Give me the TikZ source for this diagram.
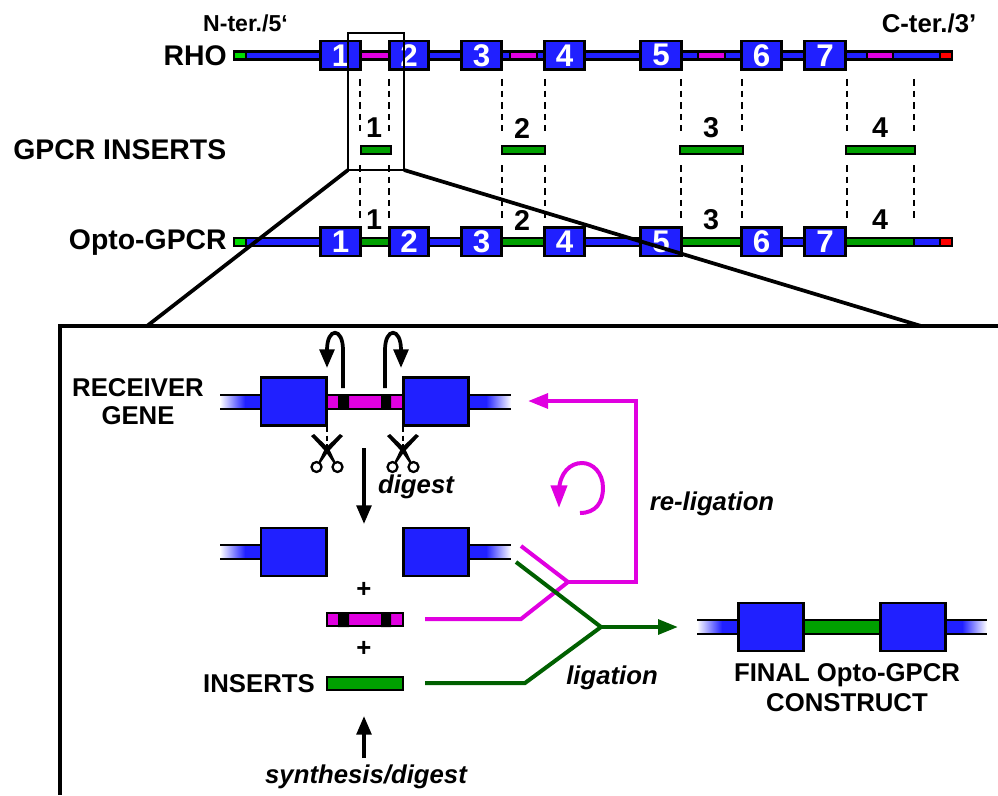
\documentclass[tikz,border=0pt]{standalone}
\usepackage{fontspec}
\setmainfont{Liberation Sans}
\usetikzlibrary{arrows.meta,calc}
\definecolor{tmblue}{HTML}{2020FF}
\definecolor{mag}{HTML}{E000E0}
\definecolor{ins}{HTML}{00A000}
\definecolor{dkg}{HTML}{006000}
\definecolor{lime}{HTML}{00DD00}
\tikzset{
 tm/.style={draw=black,line width=2pt,fill=tmblue,text=white,font=\fontsize{23.5}{23.5}\bfseries\selectfont,inner sep=0pt},
 lab/.style={font=\fontsize{19.3}{20.5}\bfseries\selectfont,inner sep=0pt,align=center},
 headlab/.style={font=\fontsize{21.3}{21}\bfseries\selectfont,inner sep=0pt},
 ilab/.style={font=\fontsize{19.3}{20}\bfseries\itshape\selectfont,inner sep=0pt},
 num/.style={font=\fontsize{21.5}{21.5}\bfseries\selectfont,inner sep=0pt},
 seg/.style={draw=black,line width=1.8pt,inner sep=0pt,minimum height=6pt},
 cut/.style={dash pattern=on 5pt off 3.7pt,line width=1.8pt},
 thick line/.style={line width=2.8pt},
 big box/.style={draw=black,line width=2pt,fill=tmblue,inner sep=0pt,minimum width=49pt,minimum height=36pt},
 bar/.style={line width=2pt},
 bighead/.style={-{Triangle[length=14pt,width=11pt]}},
 colhead/.style={-{Triangle[length=15pt,width=11pt]}},
}
\newcommand{\leadL}[3]{% x1 x2 y
 \fill[tmblue] (#1+25,#3-7) rectangle (#2,#3+7);
 \path[left color=white,right color=tmblue] (#1,#3-7) rectangle (#1+25,#3+7);
 \draw[line width=2pt] (#1,#3-7)--(#2,#3-7) (#1,#3+7)--(#2,#3+7);}
\newcommand{\leadR}[3]{%
 \fill[tmblue] (#1,#3-7) rectangle (#2-25,#3+7);
 \path[left color=tmblue,right color=white] (#2-25,#3-7) rectangle (#2,#3+7);
 \draw[line width=2pt] (#1,#3-7)--(#2,#3-7) (#1,#3+7)--(#2,#3+7);}
\newcommand{\scis}[1]{%
 \begin{scope}[shift={(#1,452)}]
 \fill (-16,-16)--(-13,-18)--(2,-3.5)--(8.5,10)--(6.5,11)--(-1.5,-0.5)--cycle;
 \fill (16,-16)--(13,-18)--(-2,-3.5)--(-8.5,10)--(-6.5,11)--(1.5,-0.5)--cycle;
 \draw[line width=1.7pt,fill=white] (-10.5,15) circle (5) (10.5,15) circle (5);
 \draw[white,line width=1.5pt] (0,-14)--(0,-4);
 \draw[cut,dash pattern=on 4pt off 2.5pt,line width=1.2pt] (0,-25)--(0,-4);
 \end{scope}}
\begin{document}
\begin{tikzpicture}[x=0.75pt,y=-0.75pt,line join=miter]
\useasboundingbox (0,0) rectangle (998,795);
% --- backbones
\foreach \yy in {55.5,242}{
 \draw[bar,fill=tmblue] (234,\yy-4) rectangle (952,\yy+4);
 \draw[bar,fill=lime] (234,\yy-4) rectangle (246,\yy+4);
 \draw[bar,fill=red] (940,\yy-4) rectangle (952,\yy+4);
}
\foreach \a/\b in {361/389,510/537,698/725,867/893}
 \draw[bar,fill=mag] (\a,51.5) rectangle (\b,59.5);
\foreach \a/\b in {361/389,502/544,682/741,846/914}
 \draw[bar,fill=ins] (\a,238) rectangle (\b,246);
\foreach \n/\a/\b in {1/320/361,2/389/429,3/461/502,4/544/585,5/640/682,6/741/782,7/804/846}{
 \node[tm,minimum width={(\b-\a-1.5)*0.75pt},minimum height=21.5pt] (r\n) at ({(\a+\b)/2},55.3) {\n};
 \node[tm,minimum width={(\b-\a-1.5)*0.75pt},minimum height=21.5pt] (o\n) at ({(\a+\b)/2},241.7) {\n};
}
% --- dashes
\foreach \x in {360,389,502,545,681,742,847,914}{
 \coordinate (da\x) at (\x,79); \coordinate (db\x) at (\x,131);
 \coordinate (dc\x) at (\x,165); \coordinate (dd\x) at (\x,218);
 \draw[cut] (da\x)--(db\x) (dc\x)--(dd\x);
}
% --- inserts
\foreach \n/\a/\b/\t in {1/360/392/374,2/501/546/522,3/679/744/711,4/845/916/880}{
 \node[seg,fill=ins,minimum width={(\b-\a-2.5)*0.75pt}] (g\n) at ({(\a+\b)/2},150) {};
 \node[num] (gn\n) at (\t,128) {\n};
 \node[num] (on\n) at (\t,220) {\n};
}
% --- labels
\node[font=\fontsize{17.3}{19}\bfseries\selectfont,inner sep=0pt] (nter) at (245.5,23) {N-ter./5‘};
\node[font=\fontsize{19.3}{19}\bfseries\selectfont,inner sep=0pt] (cter) at (929,23) {C-ter./3'};
\node[headlab,anchor=east] (rho) at (227,56) {RHO};
\node[headlab,anchor=west] (gi) at (13,150) {GPCR INSERTS};
\node[headlab,anchor=east] (og) at (227,243) {Opto-GPCR};
% --- zoom
\coordinate (zl) at (348,170); \coordinate (zr) at (404,170);
\coordinate (zt) at (348,33); \coordinate (zu) at (404,33);
\coordinate (fl) at (147,326); \coordinate (fr) at (921,326);
\draw[line width=2.2pt] (zl)--(zt)--(zu)--(zr)--cycle;
\draw[thick line] (zl)--(fl) (zr)--(fr);
\coordinate (ft) at (998,326); \coordinate (fc) at (60,326); \coordinate (fb) at (60,795);
\draw[thick line] (ft)--(fc)--(fb);
% --- receiver
\leadL{220}{260}{402}\leadR{469}{511}{402}
\draw[bar,fill=mag] (327,395) rectangle (403,409);
\fill (338,395) rectangle (349,409) (381,395) rectangle (391,409);
\node[big box] (a1) at (293.5,401.7) {};
\node[big box] (a2) at (436,401.7) {};
\leadL{220}{260}{552}\leadR{469}{511}{552}
\node[big box] (b1) at (293.5,552) {};
\node[big box] (b2) at (436,552) {};
\node[seg,fill=mag,minimum width=57pt,minimum height=9.5pt] (frag) at (364.8,619.5) {};
\fill (338,612) rectangle (349,627) (381,612) rectangle (391,627);
\node[seg,fill=ins,minimum width=57pt,minimum height=9.5pt] (insg) at (364.8,683.5) {};
% --- final
\leadL{697}{738}{627}\leadR{946}{987}{627}
\draw[bar,fill=ins] (804,620) rectangle (880,634);
\node[big box] (c1) at (771,627) {};
\node[big box] (c2) at (913,627) {};
% --- curved arrows
\coordinate (ca1) at (343,388); \coordinate (ca2) at (327,368);
\coordinate (cb1) at (385,388); \coordinate (cb2) at (401,368);
\draw[thick line,bighead] (ca1)--(343,350) .. controls (343,327) and (327,327) .. (327,350)--(ca2);
\draw[thick line,bighead] (cb1)--(385,350) .. controls (385,327) and (401,327) .. (401,350)--(cb2);
\scis{327}\scis{403}
% --- straight arrows
\coordinate (d1) at (364,448); \coordinate (d2) at (364,524);
\draw[thick line,bighead] (d1)--(d2);
\coordinate (s1) at (364,758); \coordinate (s2) at (364,716);
\draw[thick line,bighead] (s1)--(s2);
% --- ligation
\coordinate (m0) at (425,619); \coordinate (m1) at (521,619); \coordinate (mj) at (568,582);
\coordinate (m2) at (521,546); \coordinate (m3) at (636,582); \coordinate (m4) at (636,401); \coordinate (m5) at (528,401);
\draw[mag,line width=3pt] (m0)--(m1)--(mj)--(m2);
\draw[mag,line width=3pt,colhead] (mj)--(m3)--(m4)--(m5);
\coordinate (k0) at (425,683); \coordinate (k1) at (525,683); \coordinate (kj) at (601,627);
\coordinate (k2) at (516,562); \coordinate (k3) at (678,627);
\draw[dkg,line width=3pt] (k0)--(k1)--(kj)--(k2);
\draw[dkg,line width=3pt,colhead] (kj)--(k3);
\draw[mag,line width=3pt,-{Triangle[length=17pt,width=12pt]}] (580,513) .. controls (596,513) and (603,502) .. (603,488) .. controls (603,473) and (593,463) .. (582,463) .. controls (570,463) and (560,473) .. (559,490)--(559,508);
% --- labels
\node[lab] (rg) at (138,401.5) {RECEIVER\\GENE};
\node[ilab] (dg) at (416,487) {digest};
\node[ilab] (rl) at (712,504) {re-ligation};
\node[ilab] (lg) at (612,678) {ligation};
\node[ilab] (sd) at (366,777) {synthesis/digest};
\node[lab] (p1) at (364,590) {+};
\node[lab] (p2) at (364,649) {+};
\node[lab,anchor=east] (il) at (315,684) {INSERTS};
\node[lab,font=\fontsize{19.3}{22.5}\bfseries\selectfont] (fc2) at (847,688) {FINAL Opto-GPCR\\CONSTRUCT};
\end{tikzpicture}
\end{document}
